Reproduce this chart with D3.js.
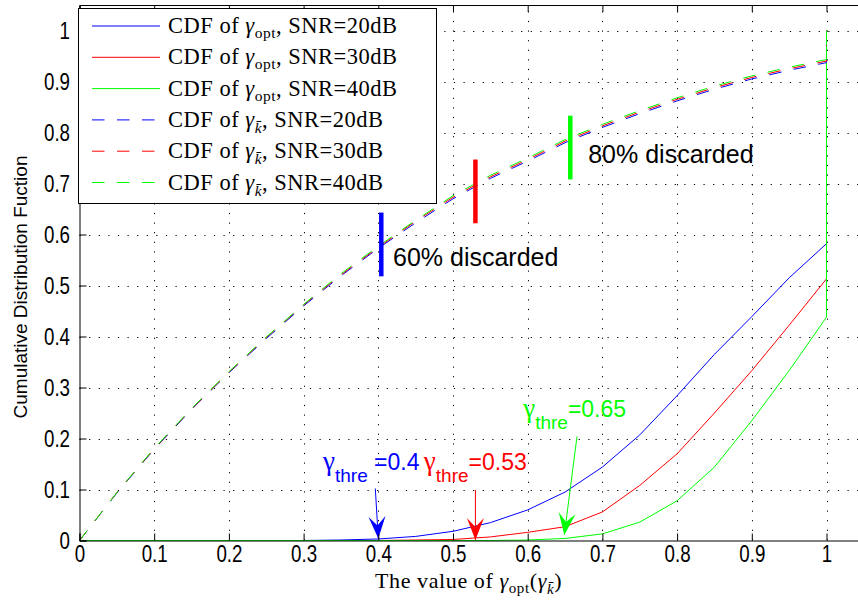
<!DOCTYPE html>
<html>
<head>
<meta charset="utf-8">
<script src="https://cdn.jsdelivr.net/npm/d3@7"></script>
<style>
  html, body { margin: 0; padding: 0; background: #fff; }
  svg { display: block; }
</style>
</head>
<body>
<svg id="chart" width="858" height="603"></svg>
<script>
// ---- data ----
const xTicks = [0, 0.1, 0.2, 0.3, 0.4, 0.5, 0.6, 0.7, 0.8, 0.9, 1];
const xTickLabels = ["0", "0.1", "0.2", "0.3", "0.4", "0.5", "0.6", "0.7", "0.8", "0.9", "1"];
const yTicks = [0, 0.1, 0.2, 0.3, 0.4, 0.5, 0.6, 0.7, 0.8, 0.9, 1];
const yTickLabels = ["0", "0.1", "0.2", "0.3", "0.4", "0.5", "0.6", "0.7", "0.8", "0.9", "1"];

// CDF of gamma_kbar (sampled abscissae, last point is the jump at 1)
const kbarX  = [0, 0.05, 0.1, 0.15, 0.2, 0.25, 0.3, 0.35, 0.4, 0.45, 0.5, 0.55, 0.6, 0.65, 0.7, 0.75, 0.8, 0.85, 0.9, 0.95, 1, 1];
const kbar20 = [0, 0.093, 0.179, 0.257, 0.329, 0.396, 0.460, 0.519, 0.573, 0.623, 0.670, 0.710, 0.744, 0.780, 0.810, 0.837, 0.862, 0.885, 0.905, 0.922, 0.937, 1];
const kbar30 = [0, 0.094, 0.180, 0.258, 0.330, 0.398, 0.462, 0.521, 0.575, 0.626, 0.673, 0.713, 0.747, 0.783, 0.813, 0.840, 0.865, 0.888, 0.908, 0.925, 0.940, 1];
const kbar40 = [0, 0.094, 0.181, 0.259, 0.331, 0.399, 0.463, 0.523, 0.577, 0.628, 0.676, 0.716, 0.750, 0.786, 0.816, 0.843, 0.868, 0.891, 0.911, 0.928, 0.943, 1];

// CDF of gamma_opt
const optX  = [0, 0.3, 0.35, 0.4, 0.45, 0.5, 0.55, 0.6, 0.65, 0.7, 0.75, 0.8, 0.85, 0.9, 0.95, 1, 1];
const opt20 = [0, 0, 0.001, 0.003, 0.008, 0.018, 0.035, 0.060, 0.095, 0.144, 0.207, 0.284, 0.365, 0.439, 0.515, 0.582, 1];
const opt30 = [0, 0, 0, 0, 0.001, 0.002, 0.007, 0.016, 0.027, 0.056, 0.108, 0.170, 0.250, 0.333, 0.422, 0.513, 1];
const opt40 = [0, 0, 0, 0, 0, 0, 0, 0.001, 0.004, 0.013, 0.036, 0.078, 0.144, 0.235, 0.333, 0.438, 1];

const seriesNames = [
  { base: "opt", snr: "20dB" }, { base: "opt", snr: "30dB" }, { base: "opt", snr: "40dB" },
  { base: "kbar", snr: "20dB" }, { base: "kbar", snr: "30dB" }, { base: "kbar", snr: "40dB" }
];

// thresholds and discard markers on the gamma_kbar curves
const thresholds = [0.4, 0.53, 0.65];
const thresholdLabels = [" =0.4", "=0.53", "=0.65"];
const markerX  = [0.404, 0.53, 0.657];
const markerLo = [0.518, 0.622, 0.708];
const markerHi = [0.643, 0.747, 0.833];
const discardLabels = ["60% discarded", "80% discarded"];

// ---- layout ----
const colors = ["#0000ff", "#ff0000", "#00ff00"];
const svg = d3.select("#chart");
const x = d3.scaleLinear().domain([0, 1.05]).range([79.5, 79.5 + 747 * 1.05]);
const y = d3.scaleLinear().domain([0, 1.05]).range([540.5, 540.5 - 510 * 1.05]);
const plotL = x(0), plotR = x(1.05), plotB = y(0), plotT = y(1.05);

// dotted grid
const grid = svg.append("g");
grid.selectAll("line.gx").data(xTicks.slice(1)).join("line")
  .attr("x1", d => Math.round(x(d)) + 0.5).attr("x2", d => Math.round(x(d)) + 0.5)
  .attr("y1", plotB).attr("y2", plotT);
grid.selectAll("line.gy").data(yTicks.slice(1)).join("line")
  .attr("y1", d => Math.round(y(d)) + 0.5).attr("y2", d => Math.round(y(d)) + 0.5)
  .attr("x1", plotL).attr("x2", plotR);
grid.selectAll("line").attr("stroke", "#000").attr("stroke-width", 1)
  .attr("stroke-dasharray", "1.2,8.4");

// curves
const line = d3.line().x(d => x(d[0])).y(d => y(d[1]));
const optSeries = [opt20, opt30, opt40];
const kbarSeries = [kbar20, kbar30, kbar40];
const curves = svg.append("g").attr("fill", "none").attr("stroke-width", 1);
optSeries.forEach((s, i) => {
  curves.append("path").attr("d", line(optX.map((v, j) => [v, s[j]])))
    .attr("stroke", colors[i]);
});
kbarSeries.forEach((s, i) => {
  curves.append("path").attr("d", line(kbarX.map((v, j) => [v, s[j]])))
    .attr("stroke", colors[i]).attr("stroke-dasharray", "12.5,12.5");
});

// discard markers
svg.append("g").selectAll("line").data(markerX).join("line")
  .attr("x1", d => x(d)).attr("x2", d => x(d))
  .attr("y1", (d, i) => y(markerLo[i])).attr("y2", (d, i) => y(markerHi[i]))
  .attr("stroke", (d, i) => colors[i]).attr("stroke-width", 4.5);

const discardPos = [[0.4197, 0.538], [0.681, 0.740]];
svg.append("g").selectAll("text").data(discardLabels).join("text")
  .attr("x", (d, i) => x(discardPos[i][0])).attr("y", (d, i) => y(discardPos[i][1]))
  .attr("font-family", "Liberation Sans, Arial, sans-serif").attr("font-size", 25)
  .attr("fill", "#000").text(d => d);

// threshold arrows
const arrowFrom = [[0.396, 0.102], [0.53, 0.099], [0.666, 0.204]];
const arrowTip  = [[0.4, 0.004], [0.53, 0.001], [0.649, 0.011]];
const arrows = svg.append("g");
thresholds.forEach((t, i) => {
  const x0 = x(arrowFrom[i][0]), y0 = y(arrowFrom[i][1]);
  const x1 = x(arrowTip[i][0]), y1 = y(arrowTip[i][1]);
  const ang = Math.atan2(y1 - y0, x1 - x0) * 180 / Math.PI;
  arrows.append("line").attr("x1", x0).attr("y1", y0).attr("x2", x1).attr("y2", y1)
    .attr("stroke", colors[i]).attr("stroke-width", 1);
  arrows.append("path")
    .attr("d", "M0,0 L-22,-8.5 L-13,0 L-22,8.5 Z")
    .attr("transform", `translate(${x1},${y1}) rotate(${ang})`)
    .attr("fill", colors[i]);
});

// threshold labels
const labelPos = [[0.326, 0.138], [0.461, 0.138], [0.594, 0.242]];
thresholds.forEach((t, i) => {
  const tx = svg.append("text")
    .attr("x", x(labelPos[i][0])).attr("y", y(labelPos[i][1]))
    .attr("font-family", "Liberation Sans, Arial, sans-serif")
    .attr("fill", colors[i]);
  tx.append("tspan").attr("font-size", 27)
    .attr("font-family", "Liberation Serif, Times New Roman, serif").text("γ");
  tx.append("tspan").attr("font-size", 19).attr("dy", 12).text("thre");
  tx.append("tspan").attr("font-size", 23).attr("dy", -12).text(thresholdLabels[i]);
});

// axes (inward ticks, box on top)
const tickFont = "Liberation Sans, Arial, sans-serif";
const xAxis = svg.append("g").attr("transform", `translate(0,${plotB})`)
  .call(d3.axisBottom(x).tickValues(xTicks).tickSize(-7).tickPadding(4.5)
    .tickFormat((d, i) => xTickLabels[i]));
const yAxis = svg.append("g").attr("transform", `translate(${plotL},0)`)
  .call(d3.axisLeft(y).tickValues(yTicks).tickSize(-7).tickPadding(9.5)
    .tickFormat((d, i) => yTickLabels[i]));
const topAxis = svg.append("g").attr("transform", `translate(0,${plotT})`)
  .call(d3.axisTop(x).tickValues(xTicks).tickSize(-7).tickFormat(""));
[xAxis, yAxis, topAxis].forEach(g => {
  g.select(".domain").attr("stroke", "#000").attr("stroke-width", 1);
  g.selectAll(".tick line").attr("stroke", "#000");
  g.selectAll("text").attr("font-family", tickFont).attr("font-size", 24).attr("fill", "#000");
});
// tick labels are set in a horizontally condensed face
[xAxis, yAxis].forEach(g => g.selectAll(".tick text").each(function () {
  const w = this.getComputedTextLength();
  this.setAttribute("textLength", w * 0.78);
  this.setAttribute("lengthAdjust", "spacingAndGlyphs");
}));

// axis titles
svg.append("text")
  .attr("transform", `translate(27,287) rotate(-90)`)
  .attr("text-anchor", "middle")
  .attr("font-family", "Liberation Sans, Arial, sans-serif").attr("font-size", 19)
  .text("Cumulative Distribution Fuction");

const serif = "Liberation Serif, Times New Roman, serif";
const xl = svg.append("text").attr("x", 375).attr("y", 588)
  .attr("font-family", serif).attr("font-size", 22).attr("letter-spacing", 0.6)
  .attr("fill", "#000");
xl.append("tspan").text("The value of ");
xl.append("tspan").attr("font-style", "italic").text("γ");
xl.append("tspan").attr("font-size", 15).attr("dy", 5).text("opt");
xl.append("tspan").attr("dy", -5).text("(");
xl.append("tspan").attr("font-style", "italic").text("γ");
xl.append("tspan").attr("font-size", 15).attr("font-style", "italic").attr("dy", 6).text("k\u0304");
xl.append("tspan").attr("dy", -6).text(")");

// legend
const lg = svg.append("g");
lg.append("rect").attr("x", 78.5).attr("y", 8.5).attr("width", 358).attr("height", 195)
  .attr("fill", "#fff").attr("stroke", "#000").attr("stroke-width", 1);
seriesNames.forEach((s, i) => {
  const ry = 26 + i * 31.3;
  const c = colors[i % 3];
  lg.append("line").attr("x1", 92).attr("x2", s.base === "opt" ? 160 : 155)
    .attr("y1", ry).attr("y2", ry).attr("stroke", c).attr("stroke-width", 1)
    .attr("stroke-dasharray", s.base === "opt" ? null : "12.5,12.5");
  const t = lg.append("text").attr("x", 168).attr("y", ry + 7)
    .attr("font-family", serif).attr("font-size", 22.5).attr("letter-spacing", 0.5)
    .attr("fill", "#000");
  t.append("tspan").text("CDF of ");
  t.append("tspan").attr("font-style", "italic").text("γ");
  if (s.base === "opt") {
    t.append("tspan").attr("font-size", 15.5).attr("dy", 5).text("opt");
    t.append("tspan").attr("dy", -5).text(", SNR=" + s.snr);
  } else {
    t.append("tspan").attr("font-size", 15.5).attr("font-style", "italic").attr("dy", 6).text("k\u0304");
    t.append("tspan").attr("dy", -6).text(", SNR=" + s.snr);
  }
});
</script>
</body>
</html>
